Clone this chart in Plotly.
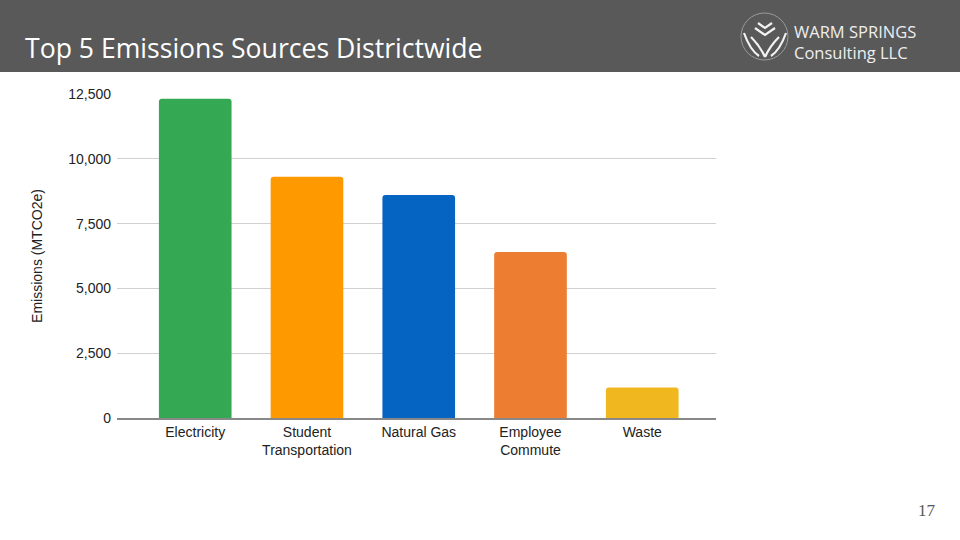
import plotly.graph_objects as go

categories = ["Electricity", "Student<br>Transportation", "Natural Gas", "Employee<br>Commute", "Waste"]
emissions = [12320, 9310, 8600, 6400, 1180]
bar_colors = ["#34A853", "#FF9900", "#0563C1", "#ED7D31", "#F0B71E"]
y_ticks = [0, 2500, 5000, 7500, 10000, 12500]
y_tick_labels = ["0", "2,500", "5,000", "7,500", "10,000", "12,500"]

W, H = 960, 540
ml, mr, mt, mb = 117, 244, 94, 122
PW, PH = W - ml - mr, H - mt - mb


def px(x):
    return (x - ml) / PW


def py(y):
    return 1 + (mt - y) / PH


def path(cmds):
    out = []
    for c in cmds:
        if isinstance(c, str):
            out.append(c)
        else:
            out.append(f"{px(c[0]):.5f},{py(c[1]):.5f}")
    return " ".join(out)


fig = go.Figure()
fig.add_trace(go.Bar(
    x=categories, y=emissions,
    marker=dict(color=bar_colors, line=dict(width=0)),
    width=0.65,
    hoverinfo="x+y",
))

logo_lines = [
    ["M", (758, 23), "L", (765, 28), "L", (772, 23)],
    ["M", (755, 28), "L", (765, 35), "L", (775, 28)],
    ["M", (744, 33), "Q", (750, 50), (759, 56)],
    ["M", (786, 33), "Q", (780, 50), (771, 56)],
    ["M", (751, 37), "Q", (760, 46), (765, 57)],
    ["M", (779, 37), "Q", (770, 46), (765, 57)],
]

shapes = [
    dict(type="rect", xref="paper", yref="paper",
         x0=px(0), x1=px(W), y0=py(72), y1=py(0),
         fillcolor="#595959", line=dict(width=0), layer="below"),
    dict(type="circle", xref="paper", yref="paper",
         x0=px(741), x1=px(788), y0=py(60), y1=py(13),
         line=dict(color="#9a9a9a", width=1), fillcolor="rgba(0,0,0,0)"),
]
for ln in logo_lines:
    shapes.append(dict(type="path", xref="paper", yref="paper", path=path(ln),
                       line=dict(color="#f2f2f2", width=2.2)))

fig.update_layout(
    width=W, height=H,
    margin=dict(l=ml, r=mr, t=mt, b=mb, pad=0),
    paper_bgcolor="white", plot_bgcolor="white",
    showlegend=False,
    barcornerradius=3,
    font=dict(family="Arial, Liberation Sans, sans-serif", size=14, color="#222222"),
    xaxis=dict(
        range=[-0.7, 4.66], showgrid=False, showline=True, linecolor="#888888", linewidth=1.5,
        ticks="", tickfont=dict(size=14, color="#222222"), fixedrange=True,
    ),
    yaxis=dict(
        range=[0, 12500], tickvals=y_ticks, ticktext=y_tick_labels,
        showgrid=True, gridcolor="#D0D0D0", gridwidth=1, zeroline=False, showline=False,
        ticks="", tickfont=dict(size=14, color="#222222"), ticklabelstandoff=5,
        title=dict(text="Emissions (MTCO2e)", font=dict(size=14, color="#222222"), standoff=22),
        fixedrange=True,
    ),
    shapes=shapes,
    annotations=[
        dict(text="Top 5 Emissions Sources Districtwide", xref="paper", yref="paper",
             x=px(23), y=py(48),
             xanchor="left", yanchor="middle", showarrow=False,
             font=dict(family="Open Sans, Lato, sans-serif", size=26.6, color="white")),
        dict(text="WARM SPRINGS<br>Consulting LLC", xref="paper", yref="paper",
             x=px(792), y=py(42), align="left",
             xanchor="left", yanchor="middle", showarrow=False,
             font=dict(family="Open Sans, Lato, sans-serif", size=16.5, color="#eeeeee")),
        dict(text="17", xref="paper", yref="paper",
             x=px(938), y=py(510),
             xanchor="right", yanchor="middle", showarrow=False,
             font=dict(family="Liberation Serif, serif", size=17, color="#595959")),
    ],
)

fig.write_html("out.html", config={"displayModeBar": False},
               post_script="document.body.style.margin='0';document.body.style.padding='0';")
